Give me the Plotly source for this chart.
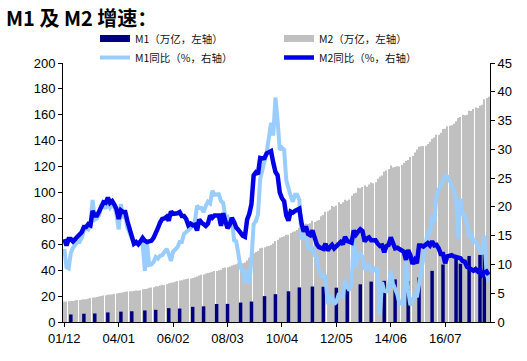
import plotly.graph_objects as go

# ---------------- data (monthly, 2001-12 .. 2018-03) ----------------
start_year, start_month, n_months = 2001, 12, 196

m2_level = [  # M2, 万亿
    15.8,
    15.9, 16.0, 16.3, 16.3, 16.6, 17.0, 17.0, 17.3, 17.6, 17.6, 17.9, 18.5,
    18.9, 18.9, 19.4, 19.6, 20.0, 20.5, 20.6, 21.1, 21.3, 21.3, 21.6, 22.1,
    22.3, 22.6, 23.0, 23.3, 23.5, 23.8, 23.8, 24.0, 24.3, 24.2, 24.6, 25.3,
    25.4, 25.7, 26.4, 26.6, 26.9, 27.6, 27.7, 28.2, 28.7, 28.6, 29.1, 29.9,
    30.3, 30.5, 31.0, 31.7, 32.0, 32.3, 32.8, 33.3, 33.5, 33.5, 34.0, 34.6,
    35.2, 35.9, 36.4, 36.7, 37.5, 37.8, 38.3, 38.8, 39.3, 39.4, 40.0, 40.3,
    41.7, 42.1, 42.3, 42.9, 43.6, 44.3, 44.5, 45.3, 45.3, 45.3, 45.9, 47.5,
    49.6, 50.7, 53.1, 54.1, 54.8, 56.9, 57.3, 57.7, 58.5, 58.6, 59.4, 60.6,
    62.6, 63.6, 65.0, 65.6, 66.3, 67.4, 67.4, 68.8, 69.6, 70.0, 71.0, 72.6,
    73.3, 73.7, 75.8, 75.7, 76.3, 78.1, 77.3, 78.1, 78.7, 81.7, 82.6, 85.2,
    85.6, 86.7, 89.6, 88.9, 90.0, 92.5, 91.2, 92.5, 94.4, 93.6, 94.5, 97.4,
    99.2, 99.9, 103.6, 103.3, 104.2, 105.4, 104.5, 106.1, 107.7, 107.1, 107.9, 110.7,
    112.4, 113.1, 116.1, 116.9, 118.2, 120.9, 119.4, 119.7, 120.2, 120.0, 121.2, 122.8,
    124.3, 125.1, 127.5, 128.1, 130.8, 133.3, 135.3, 135.7, 136.0, 136.1, 137.4, 139.2,
    141.6, 142.5, 144.6, 144.5, 146.2, 149.1, 149.2, 151.1, 151.6, 151.9, 153.0, 155.0,
    157.6, 158.3, 160.0, 159.6, 160.1, 163.1, 162.9, 164.5, 165.6, 165.3, 167.0, 167.7,
    172.1, 172.9, 174.0,
]

m1_level = [  # M1, 万亿
    6.0,
    5.8, 5.6, 5.8, 5.8, 5.9, 6.1, 6.0, 6.2, 6.4, 6.4, 6.5, 7.1,
    7.0, 6.6, 6.8, 6.9, 7.1, 7.3, 7.2, 7.4, 7.6, 7.7, 7.8, 8.4,
    8.1, 8.0, 8.0, 8.2, 8.3, 8.4, 8.3, 8.4, 8.7, 8.7, 8.9, 9.6,
    8.9, 9.0, 8.8, 9.0, 9.1, 9.4, 9.2, 9.4, 9.7, 9.8, 10.0, 10.7,
    9.8, 10.1, 9.9, 10.2, 10.4, 10.6, 10.6, 10.8, 11.2, 11.4, 11.7, 12.6,
    11.8, 12.1, 11.8, 12.1, 12.5, 12.9, 12.8, 13.3, 13.7, 13.9, 14.3, 15.3,
    14.2, 14.3, 14.0, 14.2, 14.8, 14.7, 14.6, 14.9, 15.0, 15.1, 15.3, 16.6,
    15.5, 15.8, 17.0, 17.0, 17.6, 19.3, 19.3, 20.0, 20.1, 20.0, 20.6, 22.0,
    21.5, 21.3, 22.1, 22.2, 22.8, 24.1, 23.7, 24.4, 24.4, 24.4, 25.2, 26.7,
    24.7, 24.3, 25.4, 25.1, 25.6, 27.4, 26.4, 27.1, 26.7, 26.4, 27.2, 29.0,
    25.5, 25.4, 27.0, 26.0, 26.5, 28.7, 27.6, 28.3, 28.7, 28.0, 28.7, 30.9,
    29.7, 27.9, 30.2, 29.1, 29.5, 31.3, 30.3, 31.1, 31.2, 30.4, 31.4, 33.7,
    30.1, 29.8, 31.8, 30.7, 31.1, 34.1, 32.3, 32.9, 32.7, 31.5, 32.4, 34.8,
    33.3, 31.5, 33.0, 31.8, 32.6, 35.6, 34.4, 35.9, 36.4, 36.0, 37.5, 40.1,
    39.5, 37.0, 40.4, 39.0, 40.3, 44.4, 43.1, 45.0, 45.5, 44.7, 46.0, 48.7,
    45.5, 45.0, 48.0, 46.3, 47.1, 51.0, 49.7, 51.3, 51.9, 50.6, 51.8, 54.4,
    52.3, 48.8, 52.3,
]

m1_yoy = [  # M1 同比, %
    12.7,
    9.5, 9.3, 12.0, 12.9, 13.3, 13.9, 13.9, 14.6, 15.9, 16.4, 16.1, 16.8,
    21.2, 17.8, 18.0, 18.6, 20.2, 20.2, 19.7, 20.8, 19.9, 20.4, 19.9, 18.7,
    16.1, 20.5, 18.1, 18.5, 16.4, 15.3, 14.6, 13.7, 13.7, 13.6, 13.7, 13.6,
    8.9, 13.7, 9.9, 10.0, 10.4, 11.3, 11.0, 11.5, 11.6, 12.1, 12.7, 11.8,
    10.6, 12.2, 12.6, 13.0, 13.9, 13.9, 15.3, 15.6, 16.0, 16.3, 16.8, 17.5,
    20.2, 19.8, 19.8, 19.1, 20.2, 20.9, 20.6, 22.8, 22.1, 22.2, 22.2, 21.0,
    20.7, 18.2, 18.3, 16.9, 18.1, 14.2, 14.0, 11.8, 9.4, 8.9, 6.8, 9.1,
    6.7, 10.9, 17.0, 17.5, 18.7, 24.8, 26.4, 27.7, 29.5, 32.0, 34.6, 32.4,
    39.0, 35.0, 29.9, 30.3, 29.9, 24.6, 23.1, 21.9, 20.9, 22.1, 22.1, 21.2,
    14.6, 14.5, 15.0, 12.9, 12.7, 13.1, 11.6, 11.2, 8.9, 8.4, 7.8, 7.9,
    3.1, 4.3, 4.4, 3.1, 3.5, 4.7, 4.6, 4.5, 7.3, 6.1, 5.5, 6.5,
    15.3, 9.5, 11.9, 11.9, 11.3, 9.1, 9.7, 9.9, 8.9, 8.9, 9.4, 9.3,
    1.2, 6.9, 5.4, 5.3, 5.7, 8.9, 6.7, 5.7, 4.8, 3.2, 3.2, 3.2,
    10.6, 5.6, 2.9, 3.7, 4.7, 4.3, 6.6, 9.3, 11.4, 14.0, 15.7, 15.2,
    18.6, 17.4, 22.1, 22.9, 23.7, 24.6, 25.4, 25.3, 24.7, 23.9, 22.7, 21.4,
    14.5, 21.4, 18.8, 18.5, 17.0, 15.0, 15.3, 14.0, 14.0, 13.0, 12.7, 11.8,
    15.0, 8.5, 7.1,
]

m2_yoy = [  # M2 同比, %
    14.4,
    13.3, 14.4, 14.4, 14.0, 14.5, 14.7, 15.2, 15.6, 16.5, 16.5, 17.0, 16.8,
    19.3, 18.5, 18.5, 19.2, 20.2, 20.8, 20.7, 21.6, 20.7, 21.0, 20.4, 19.6,
    17.9, 19.4, 19.1, 19.1, 17.5, 16.2, 15.3, 13.6, 13.9, 13.5, 14.0, 14.6,
    14.1, 13.9, 14.0, 14.1, 14.6, 15.7, 16.3, 17.3, 17.9, 18.0, 18.3, 17.6,
    19.2, 18.8, 18.8, 18.9, 19.1, 18.4, 18.4, 17.9, 16.8, 17.1, 16.8, 16.9,
    15.9, 17.8, 17.3, 17.1, 16.7, 17.1, 18.5, 18.1, 18.5, 18.5, 18.5, 16.7,
    18.9, 17.5, 16.3, 16.9, 18.1, 17.4, 16.4, 16.0, 15.3, 15.0, 14.8, 17.8,
    18.8, 20.5, 25.5, 26.0, 25.7, 28.5, 28.4, 28.5, 29.3, 29.4, 29.7, 27.7,
    26.1, 25.5, 22.5, 21.5, 21.0, 18.5, 17.6, 19.2, 19.0, 19.3, 19.5, 19.7,
    17.2, 15.7, 16.6, 15.3, 15.1, 15.9, 14.7, 13.5, 13.0, 12.9, 12.7, 13.6,
    12.4, 13.0, 13.4, 12.8, 13.2, 13.6, 13.9, 13.5, 14.8, 14.1, 13.9, 13.8,
    15.9, 15.2, 15.7, 16.1, 15.8, 14.0, 14.5, 14.7, 14.2, 14.3, 14.2, 13.6,
    13.2, 13.3, 12.1, 13.2, 13.4, 14.7, 13.5, 12.8, 12.9, 12.6, 12.3, 12.2,
    10.8, 12.5, 11.6, 10.1, 10.8, 10.2, 13.3, 13.3, 13.1, 13.5, 13.7, 13.3,
    14.0, 13.3, 13.4, 12.8, 11.8, 11.8, 10.2, 11.4, 11.5, 11.6, 11.4, 11.3,
    11.3, 11.1, 10.6, 10.5, 9.6, 9.4, 9.2, 8.9, 9.2, 8.8, 9.1, 8.2,
    8.6, 8.8, 8.2,
]

# months whose M1 bar is visible in the original picture
m1_shown = [3, 9, 14, 20, 26, 31, 37, 42, 48, 53, 59, 64, 70, 75, 81, 86, 92, 97,
            103, 108, 114, 119, 125, 130, 136, 141, 147, 152, 158, 163, 169, 174,
            180, 182, 186, 191, 193]

tick_labels = ["01/12", "04/01", "06/02", "08/03", "10/04", "12/05", "14/06", "16/07"]

# ---------------- categories ----------------
months = []
y, m = start_year, start_month
for _ in range(n_months):
    months.append(f"{y % 100:02d}/{m:02d}")
    m += 1
    if m > 12:
        m, y = 1, y + 1

NAVY = "#000080"
GRAY = "#C0C0C0"
LIGHT = "#99CCFF"
BLUE = "#0000E6"

fig = go.Figure()
fig.add_trace(go.Bar(x=months, y=m2_level, width=0.45, marker=dict(color=GRAY, line=dict(width=0)),
                     showlegend=False, name="M2（万亿，左轴）"))
fig.add_trace(go.Bar(x=[months[i] for i in m1_shown], y=[m1_level[i] for i in m1_shown],
                     width=1.6, marker=dict(color=NAVY, line=dict(width=0)),
                     showlegend=False, name="M1（万亿，左轴）"))
# legend entries
fig.add_trace(go.Scatter(x=[None], y=[None], mode="lines", line=dict(color=NAVY, width=7),
                         name="M1（万亿，左轴）"))
fig.add_trace(go.Scatter(x=[None], y=[None], mode="lines", line=dict(color=GRAY, width=7),
                         name="M2（万亿，左轴）"))
fig.add_trace(go.Scatter(x=months, y=m1_yoy, yaxis="y2", mode="lines",
                         line=dict(color=LIGHT, width=4), name="M1同比（%，右轴）"))
fig.add_trace(go.Scatter(x=months, y=m2_yoy, yaxis="y2", mode="lines",
                         line=dict(color=BLUE, width=4.5), name="M2同比（%，右轴）"))

axis_font = dict(family="Liberation Sans, Arial, sans-serif", size=13, color="#000")
fig.update_layout(
    width=527, height=361,
    margin=dict(l=63, r=37, t=63, b=39, autoexpand=False),
    paper_bgcolor="white", plot_bgcolor="white",
    barmode="overlay",
    showlegend=True,
    legend=dict(orientation="h", xref="container", yref="container",
                x=95 / 527, y=1 - 24 / 361, xanchor="left", yanchor="top",
                entrywidth=139, itemwidth=30, bgcolor="rgba(0,0,0,0)",
                font=dict(family="Noto Sans CJK SC", size=10.5, color="#111"),
                tracegroupgap=0),
    xaxis=dict(type="category", range=[-0.6, n_months - 0.4],
               tickmode="array", tickvals=tick_labels, ticktext=tick_labels,
               ticks="outside", ticklen=4, tickcolor="#000",
               showline=True, linecolor="#000", linewidth=1,
               showgrid=False, tickfont=axis_font),
    yaxis=dict(range=[0, 200], dtick=20, ticks="outside", ticklen=4, tickcolor="#000",
               showline=True, linecolor="#000", linewidth=1, showgrid=False,
               zeroline=False, tickfont=axis_font),
    yaxis2=dict(range=[0, 45], dtick=5, overlaying="y", side="right",
                ticks="outside", ticklen=4, tickcolor="#000",
                showline=True, linecolor="#000", linewidth=1, showgrid=False,
                zeroline=False, tickfont=axis_font),
    annotations=[dict(text="<b>M1 及 M2 增速：</b>", xref="paper", yref="paper",
                      x=-59 / 427, y=1 + 45 / 258.7, xanchor="left", yanchor="middle",
                      showarrow=False,
                      font=dict(family="Noto Sans CJK SC", size=20, color="#000"))],
)

fig.write_html("out.html", config={"displayModeBar": False},
               post_script="document.body.style.margin='0';")
